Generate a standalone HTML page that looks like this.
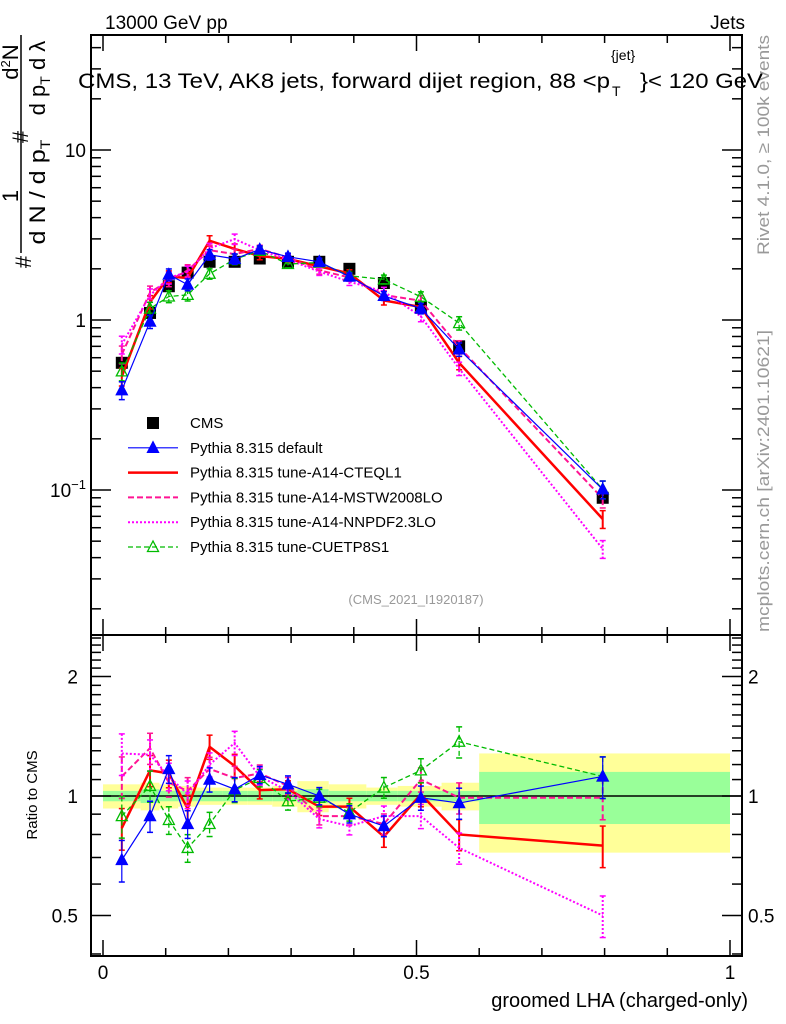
<!DOCTYPE html>
<html><head><meta charset="utf-8"><style>
html,body{margin:0;padding:0;background:#fff;}
svg{display:block;font-family:"Liberation Sans",sans-serif;}
</style></head><body>
<svg id="c" width="786" height="1024" viewBox="0 0 786 1024" xmlns="http://www.w3.org/2000/svg">
<g id="bands"></g>
<g id="frame"></g>
<g id="marks"></g>
<text x="105" y="29" font-size="19">13000 GeV pp</text>
<text x="745" y="29" font-size="19" text-anchor="end">Jets</text>
<g>
<text x="78" y="88" font-size="21" textLength="532" lengthAdjust="spacingAndGlyphs">CMS, 13 TeV, AK8 jets, forward dijet region, 88 &lt;p</text>
<text x="611" y="60" font-size="14">{jet}</text>
<text x="612" y="96" font-size="14">T</text>
<text x="640" y="88" font-size="21" textLength="123" lengthAdjust="spacingAndGlyphs">}&lt; 120 GeV</text>
</g>
<text x="416" y="604" font-size="13" fill="#999" text-anchor="middle">(CMS_2021_I1920187)</text>
<text transform="translate(769,255) rotate(-90)" font-size="17" fill="#999" textLength="220" lengthAdjust="spacingAndGlyphs">Rivet 4.1.0, ≥ 100k events</text>
<text transform="translate(769,632) rotate(-90)" font-size="17" fill="#999" textLength="302" lengthAdjust="spacingAndGlyphs">mcplots.cern.ch [arXiv:2401.10621]</text>
<g font-size="22">
<line x1="21" y1="35" x2="21" y2="253" stroke="#000" stroke-width="1.5"/>
<text transform="translate(31,262) rotate(-90)" text-anchor="middle">#</text>
<text transform="translate(18,196) rotate(-90)" text-anchor="middle">1</text>
<text transform="translate(45,192) rotate(-90)" text-anchor="middle" textLength="105" lengthAdjust="spacingAndGlyphs">d N / d p<tspan font-size="14" dy="5">T</tspan></text>
<text transform="translate(28,137) rotate(-90)" text-anchor="middle">#</text>
<text transform="translate(18,62) rotate(-90)" text-anchor="middle">d<tspan font-size="13" dy="-8">2</tspan><tspan dy="8">N</tspan></text>
<text transform="translate(45,78) rotate(-90)" text-anchor="middle">d p<tspan font-size="14" dy="5">T</tspan><tspan dy="-5"> d λ</tspan></text>
</g>
<text transform="translate(37,795) rotate(-90)" font-size="15" text-anchor="middle">Ratio to CMS</text>
<text x="748" y="1007" font-size="20" text-anchor="end">groomed LHA (charged-only)</text>
<g id="legend"></g>
</svg>
<script>
const xs=[0.03,0.075,0.105,0.135,0.17,0.21,0.25,0.295,0.345,0.393,0.448,0.507,0.568,0.797];
const cms=[0.56,1.1,1.58,1.9,2.2,2.2,2.3,2.2,2.2,2.0,1.65,1.18,0.70,0.09];
const rDefault=[0.69,0.89,1.17,0.85,1.10,1.04,1.13,1.07,1.0,0.90,0.84,0.99,0.96,1.12];
const rCTEQ=[0.83,1.16,1.14,0.93,1.33,1.19,1.035,1.04,0.94,0.94,0.79,1.01,0.80,0.75];
const rMSTW=[1.12,1.32,1.08,1.03,1.17,1.11,1.14,1.06,0.89,0.89,0.85,1.10,0.99,0.99];
const rNNPDF=[1.28,1.27,1.12,1.01,1.20,1.36,1.12,1.03,0.875,0.84,0.89,0.89,0.74,0.50];
const rCUET=[0.89,1.06,0.87,0.74,0.85,1.035,1.11,0.97,0.99,0.91,1.05,1.16,1.37,1.12];
const mcErr=[0.12,0.09,0.08,0.08,0.07,0.07,0.05,0.05,0.05,0.05,0.06,0.07,0.09,0.12];
const binEdges=[0,0.06,0.09,0.12,0.15,0.19,0.23,0.27,0.31,0.36,0.42,0.47,0.54,0.6,1.0];
const yellowHW=[0.07,0.08,0.07,0.06,0.05,0.05,0.05,0.06,0.09,0.07,0.05,0.06,0.08,0.28];
const greenHW=[0.03,0.04,0.03,0.03,0.03,0.03,0.03,0.03,0.04,0.03,0.03,0.03,0.03,0.15];

const NS='http://www.w3.org/2000/svg';
const X=v=>103+627*v;
const YM=v=>320-170*Math.log10(v);
const YR=v=>796-397*Math.log10(v);
function mk(tag,attrs,parent){const e=document.createElementNS(NS,tag);for(const k in attrs)e.setAttribute(k,attrs[k]);parent.appendChild(e);return e;}
const frame=document.getElementById('frame'),marks=document.getElementById('marks'),bands=document.getElementById('bands'),legend=document.getElementById('legend');

for(let i=0;i<binEdges.length-1;i++){
  const x0=X(binEdges[i]),x1=X(binEdges[i+1]);
  const y=mk('rect',{x:x0,y:YR(1+yellowHW[i]),width:x1-x0,height:YR(1-yellowHW[i])-YR(1+yellowHW[i]),fill:'#ffff99'},bands);
  
  
  const g=mk('rect',{x:x0,y:YR(1+greenHW[i]),width:x1-x0,height:YR(1-greenHW[i])-YR(1+greenHW[i]),fill:'#99ff99'},bands);
  
  
}
mk('rect',{x:91,y:35,width:651,height:600,fill:'none',stroke:'#000','stroke-width':2},frame);
mk('rect',{x:91,y:635,width:651,height:321,fill:'none',stroke:'#000','stroke-width':2},frame);
mk('line',{x1:91,y1:796,x2:742,y2:796,stroke:'#000','stroke-width':1.5},frame);
for(let k=0;k<=10;k++){
  const v=k/10,x=X(v),L=(k%5==0)?16:8;
  [[35,1],[635,1],[635,-1],[956,-1]].forEach(([y0,d])=>{
    mk('line',{x1:x,y1:y0,x2:x,y2:y0+d*L,stroke:'#000','stroke-width':1.5},frame);});
  if(k%5==0){const t=mk('text',{x:x,y:979,'font-size':19,'text-anchor':'middle'},frame);t.textContent=(v==0?'0':v==0.5?'0.5':'1');
    
    }
}
for(let dec=-2;dec<=1;dec++){for(let m=1;m<=9;m++){
  const v=m*Math.pow(10,dec),y=YM(v);if(y<35||y>635)continue;
  const L=m==1?20:10;
  mk('line',{x1:91,y1:y,x2:91+L,y2:y,stroke:'#000','stroke-width':1.5},frame);
  mk('line',{x1:742,y1:y,x2:742-L,y2:y,stroke:'#000','stroke-width':1.5},frame);
}}
[[10,'10'],[1,'1']].forEach(([v,s])=>{const t=mk('text',{x:86,y:YM(v)+7,'font-size':19,'text-anchor':'end'},frame);t.textContent=s;
  
  });
{const t=mk('text',{x:86,y:YM(0.1)+7,'font-size':19,'text-anchor':'end'},frame);t.innerHTML='10<tspan font-size="13" dy="-8">−1</tspan>';
 
 }
[0.4,0.5,0.6,0.7,0.8,0.9,1,1.1,1.2,1.3,1.4,1.5,1.6,1.7,1.8,1.9,2,2.1,2.2,2.3,2.4,2.5].forEach(v=>{
  const y=YR(v);if(y<636||y>955)return;const L=(v==0.5||v==1||v==2)?20:10;
  mk('line',{x1:91,y1:y,x2:91+L,y2:y,stroke:'#000','stroke-width':1.5},frame);
  mk('line',{x1:742,y1:y,x2:742-L,y2:y,stroke:'#000','stroke-width':1.5},frame);});
[[2,'2'],[1,'1'],[0.5,'0.5']].forEach(([v,s])=>{
  const a=mk('text',{x:78,y:YR(v)+7,'font-size':19,'text-anchor':'end'},frame);a.textContent=s;
  
  
  const b=mk('text',{x:748,y:YR(v)+7,'font-size':19},frame);b.textContent=s;
  
  });

const series=[
 {name:'cteql1',r:rCTEQ,color:'#ff0000',w:2.5,dash:'',marker:'none'},
 {name:'mstw',r:rMSTW,color:'#ff1493',w:2,dash:'6,3',marker:'none'},
 {name:'nnpdf',r:rNNPDF,color:'#ff00ff',w:2,dash:'2,2',marker:'none'},
 {name:'cuetp8s1',r:rCUET,color:'#00bb00',w:1.3,dash:'5,3',marker:'open'},
 {name:'default',r:rDefault,color:'#0000ff',w:1.2,dash:'',marker:'tri'},
];
function tri(cx,cy,color,open,par){const p=mk('polygon',{points:`${cx},${cy-6} ${cx-5.5},${cy+4.5} ${cx+5.5},${cy+4.5}`,fill:open?'none':color,stroke:color,'stroke-width':1.3},par);return p;}
series.forEach(s=>{
  const vals=cms.map((c,i)=>c*s.r[i]);
  const clip=(y,lo,hi)=>Math.max(lo,Math.min(hi,y));
  const ptsM=xs.map((x,i)=>X(x)+','+YM(vals[i])).join(' ');
  const ptsR=xs.map((x,i)=>X(x)+','+clip(YR(s.r[i]),636,955)).join(' ');
  const lm=mk('polyline',{points:ptsM,fill:'none',stroke:s.color,'stroke-width':s.w,'stroke-dasharray':s.dash},marks);
  
  
  const lr=mk('polyline',{points:ptsR,fill:'none',stroke:s.color,'stroke-width':s.w,'stroke-dasharray':s.dash},marks);
  
  
  xs.forEach((x,i)=>{
    const e=mcErr[i],cx=X(x);
    [[YM(vals[i]*(1+e)),YM(vals[i]*(1-e))],[clip(YR(s.r[i]*(1+e)),636,955),clip(YR(s.r[i]*(1-e)),636,955)]].forEach(([a,b])=>{
      const eb=mk('line',{x1:cx,y1:a,x2:cx,y2:b,stroke:s.color,'stroke-width':Math.min(s.w,2),'stroke-dasharray':s.dash},marks);
      
      
      mk('line',{x1:cx-3,y1:a,x2:cx+3,y2:a,stroke:s.color,'stroke-width':1.5},marks);
      mk('line',{x1:cx-3,y1:b,x2:cx+3,y2:b,stroke:s.color,'stroke-width':1.5},marks);
    });
    if(s.marker!=='none'){
      const m1=tri(cx,YM(vals[i]),s.color,s.marker==='open',marks);
      
      
      const yr=YR(s.r[i]);if(yr>636&&yr<955){const m2=tri(cx,yr,s.color,s.marker==='open',marks);
      
      }
    }
  });
});
xs.forEach((x,i)=>{
  const r=mk('rect',{x:X(x)-6,y:YM(cms[i])-6,width:12,height:12,fill:'#000'},marks);
  
  
  marks.insertBefore(r,marks.firstChild);
});

const leg=[['CMS','#000','','sq',0],['Pythia 8.315 default','#0000ff','','tri',1.2],['Pythia 8.315 tune-A14-CTEQL1','#ff0000','','none',2.5],
 ['Pythia 8.315 tune-A14-MSTW2008LO','#ff1493','6,3','none',2],['Pythia 8.315 tune-A14-NNPDF2.3LO','#ff00ff','2,2','none',2],['Pythia 8.315 tune-CUETP8S1','#00bb00','5,3','open',1.3]];
leg.forEach((l,i)=>{
  const y=423+i*24.8;
  const g=mk('g',{},legend);
  
  
  if(l[3]==='sq'){mk('rect',{x:147,y:y-6,width:12,height:12,fill:'#000'},g);}
  else{mk('line',{x1:128,y1:y,x2:178,y2:y,stroke:l[1],'stroke-width':l[4],'stroke-dasharray':l[2]},g);
    if(l[3]!=='none')tri(153,y,l[1],l[3]==='open',g);}
  const t=mk('text',{x:190,y:y+5,'font-size':15},g);t.textContent=l[0];
});
</script>
</body></html>
